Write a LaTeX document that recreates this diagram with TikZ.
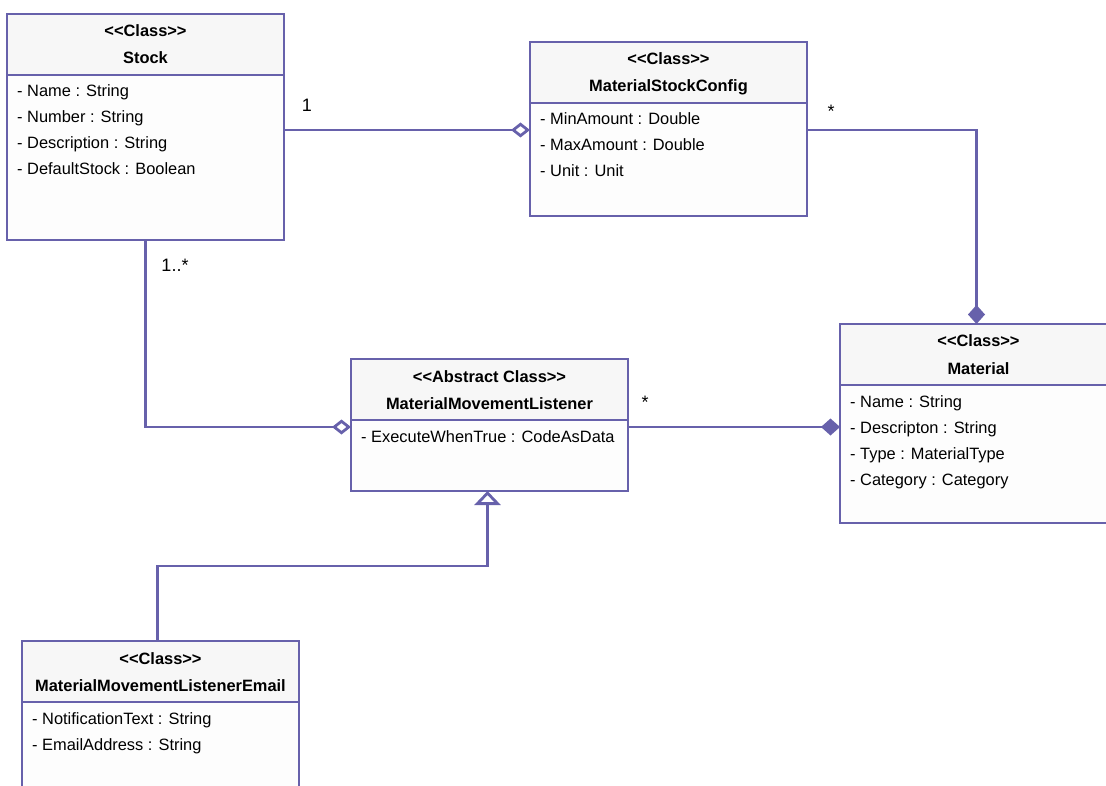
\documentclass[tikz,border=0pt]{standalone}
\usepackage{fontspec}
\setmainfont{Liberation Sans}
\usetikzlibrary{arrows.meta,calc}

\definecolor{umlline}{RGB}{103,97,171}
\definecolor{headfill}{RGB}{247,247,247}
\definecolor{bodyfill}{RGB}{253,253,253}

\newcommand\stereo[1]{<\kern0pt<#1>\kern0pt>}

\tikzset{
  headbox/.style={draw=umlline, fill=headfill, line width=2.8pt, minimum width=277pt,
    minimum height=61pt, inner sep=0pt, outer sep=0pt},
  bodybox/.style={draw=umlline, fill=bodyfill, line width=2.8pt, minimum width=277pt,
    inner sep=0pt, outer sep=0pt},
  headtext/.style={font=\fontsize{16.4}{19}\selectfont\bfseries, inner sep=0pt},
  attrtext/.style={font=\fontsize{16.4}{19}\selectfont, inner sep=0pt},
  mult/.style={font=\fontsize{18}{21}\selectfont, inner sep=0pt},
  link/.style={draw=umlline, line width=2.8pt},
  aggregation/.style={link, -{Diamond[open, length=19pt, width=15pt]}},
  composition/.style={link, -{Diamond[length=19pt, width=17pt]}},
  inherit/.style={link, -{Triangle[open, length=14pt, width=26pt]}},
}

% #1 name, #2 top left corner, #3 stereotype, #4 title, #5 body height, #6 attributes
\newcommand\umlclass[6]{
  \node[headbox, anchor=north west] (#1head) at (#2) {};
  \node[bodybox, anchor=north west, minimum height=#5pt] (#1body) at (#1head.south west) {};
  \node[headtext, anchor=base] (#1stereo) at ($(#1head.north)+(0,23)$) {\stereo{#3}};
  \node[headtext, anchor=base] (#1title) at ($(#1head.north)+(0,50)$) {#4};
  \foreach \attr [count=\i] in {#6}
    \node[attrtext, anchor=base west] (#1attr\i) at ($(#1body.north west)+(10,{22+26*(\i-1)})$) {\attr};
}

\begin{document}
\begin{tikzpicture}[x=1pt, y=-1pt]
  \useasboundingbox (0,0) rectangle (1106,786);

  \umlclass{stock}{7,14}{Class}{Stock}{165}
    {- Name : String, - Number : String, - Description : String, - DefaultStock : Boolean}
  \umlclass{msc}{530,42}{Class}{MaterialStockConfig}{113}
    {- MinAmount : Double, - MaxAmount : Double, - Unit : Unit}
  \umlclass{material}{840,324}{Class}{Material}{138}
    {- Name : String, - Descripton : String, - Type : MaterialType, - Category : Category}
  \umlclass{mml}{351,359}{Abstract Class}{MaterialMovementListener}{71}
    {- ExecuteWhenTrue : CodeAsData}
  \umlclass{email}{22,641}{Class}{MaterialMovementListenerEmail}{100}
    {- NotificationText : String, - EmailAddress : String}

  \coordinate (topline) at (0,130);
  \coordinate (midline) at (0,427);
  \coordinate (bend) at (0,566);
  \coordinate (emailtop) at ($(emailhead.north)+(-3,0)$);
  \coordinate (mmlbottom) at ($(mmlbody.south)+(-2,0)$);
  \coordinate (materialtop) at ($(materialhead.north)+(-2,0)$);

  \draw[aggregation] (stockbody.east |- topline) -- (mscbody.west |- topline);
  \draw[composition] (mscbody.east |- topline) -| (materialtop);
  \draw[aggregation] (stockbody.south) |- (mmlbody.west |- midline);
  \draw[composition] (mmlbody.east |- midline) -- (materialbody.west |- midline);
  \draw[inherit] (emailtop) -- (emailtop |- bend) -| (mmlbottom);

  \node[mult, anchor=base] (stockmult) at (307,112) {1};
  \node[mult, anchor=base] (stocklistmult) at (175,272) {1..*};
  \node[mult, anchor=base] (mscmult) at (831,118) {*};
  \node[mult, anchor=base] (listmult) at (645,408) {*};
\end{tikzpicture}
\end{document}
